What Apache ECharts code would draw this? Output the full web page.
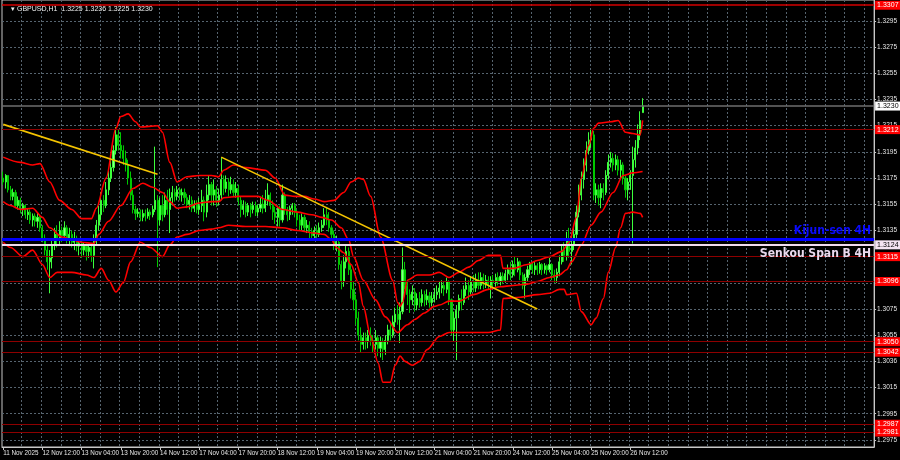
<!DOCTYPE html>
<html><head><meta charset="utf-8">
<script src="https://cdn.jsdelivr.net/npm/echarts@6/dist/echarts.min.js"></script>
<style>html,body{margin:0;padding:0;background:#000;}#c{width:900px;height:460px;}</style>
</head><body><div id="c"></div>
<script>
const symbolName = 'GBPUSD,H1';
const lastBarOHLC = ['1.3225', '1.3236', '1.3225', '1.3230'];
const xTickLabels = ['11 Nov 2025','12 Nov 12:00','13 Nov 04:00','13 Nov 20:00','14 Nov 12:00','17 Nov 04:00','17 Nov 20:00','18 Nov 12:00','19 Nov 04:00','19 Nov 20:00','20 Nov 12:00','21 Nov 04:00','21 Nov 20:00','24 Nov 12:00','25 Nov 04:00','25 Nov 20:00','26 Nov 12:00'];
const yTickValues = [1.2975,1.2995,1.3015,1.3035,1.3055,1.3075,1.3095,1.3115,1.3135,1.3155,1.3175,1.3195,1.3215,1.3235,1.3255,1.3275,1.3295];
const yTickLabels = ['1.2975','1.2995','1.3015','1.3036','1.3055','1.3075','1.3096','1.3115','1.3135','1.3155','1.3175','1.3195','1.3215','1.3235','1.3255','1.3275','1.3295'];
const barSlots = 356;
const yMin = 1.29696, yMax = 1.33110;

// [open, close, low, high]
const candles = [
[1.3175,1.3172,1.3170,1.3180],[1.3172,1.3177,1.3167,1.3178],[1.3177,1.3166,1.3164,1.3177],[1.3166,1.3161,1.3158,1.3169],[1.3161,1.3164,1.3158,1.3167],
[1.3164,1.3154,1.3152,1.3166],[1.3154,1.3158,1.3151,1.3161],[1.3158,1.3151,1.3148,1.3160],[1.3151,1.3154,1.3146,1.3156],[1.3154,1.3147,1.3144,1.3155],
[1.3147,1.3149,1.3143,1.3152],[1.3149,1.3143,1.3140,1.3151],[1.3143,1.3146,1.3138,1.3148],[1.3146,1.3142,1.3138,1.3148],[1.3142,1.3145,1.3137,1.3149],
[1.3145,1.3137,1.3134,1.3146],[1.3137,1.3129,1.3126,1.3139],[1.3129,1.3120,1.3116,1.3132],[1.3120,1.3111,1.3105,1.3124],[1.3111,1.3114,1.3087,1.3120],
[1.3114,1.3124,1.3106,1.3128],[1.3124,1.3132,1.3120,1.3137],[1.3132,1.3128,1.3122,1.3139],[1.3128,1.3135,1.3124,1.3142],[1.3135,1.3131,1.3126,1.3138],
[1.3131,1.3137,1.3128,1.3142],[1.3137,1.3129,1.3125,1.3139],[1.3129,1.3132,1.3123,1.3137],[1.3132,1.3126,1.3122,1.3135],[1.3126,1.3129,1.3120,1.3134],
[1.3129,1.3123,1.3119,1.3131],[1.3123,1.3125,1.3116,1.3129],[1.3125,1.3120,1.3114,1.3128],[1.3120,1.3123,1.3116,1.3126],[1.3123,1.3119,1.3112,1.3125],
[1.3119,1.3122,1.3114,1.3125],[1.3122,1.3116,1.3111,1.3124],[1.3116,1.3128,1.3106,1.3132],[1.3128,1.3139,1.3124,1.3143],[1.3139,1.3147,1.3135,1.3154],
[1.3147,1.3158,1.3143,1.3164],[1.3158,1.3154,1.3149,1.3162],[1.3154,1.3166,1.3152,1.3172],[1.3166,1.3175,1.3162,1.3181],[1.3175,1.3183,1.3172,1.3189],
[1.3183,1.3196,1.3180,1.3200],[1.3196,1.3208,1.3193,1.3214],[1.3208,1.3200,1.3196,1.3212],[1.3200,1.3196,1.3190,1.3210],[1.3196,1.3190,1.3185,1.3200],
[1.3190,1.3185,1.3180,1.3196],[1.3185,1.3175,1.3170,1.3189],[1.3175,1.3162,1.3158,1.3180],[1.3162,1.3151,1.3148,1.3166],[1.3151,1.3148,1.3143,1.3154],
[1.3148,1.3149,1.3145,1.3152],[1.3149,1.3145,1.3142,1.3151],[1.3145,1.3148,1.3142,1.3151],[1.3148,1.3146,1.3142,1.3151],[1.3146,1.3149,1.3144,1.3152],
[1.3149,1.3147,1.3143,1.3151],[1.3147,1.3151,1.3145,1.3154],[1.3151,1.3158,1.3149,1.3199],[1.3158,1.3143,1.3107,1.3162],[1.3143,1.3154,1.3139,1.3160],
[1.3154,1.3147,1.3142,1.3162],[1.3147,1.3158,1.3145,1.3164],[1.3158,1.3151,1.3147,1.3166],[1.3151,1.3160,1.3133,1.3167],[1.3160,1.3164,1.3154,1.3169],
[1.3164,1.3161,1.3157,1.3167],[1.3161,1.3166,1.3158,1.3169],[1.3166,1.3162,1.3158,1.3168],[1.3162,1.3164,1.3157,1.3167],[1.3164,1.3160,1.3155,1.3167],
[1.3160,1.3155,1.3152,1.3163],[1.3155,1.3158,1.3151,1.3162],[1.3158,1.3152,1.3149,1.3161],[1.3152,1.3155,1.3149,1.3158],[1.3155,1.3151,1.3148,1.3158],
[1.3151,1.3154,1.3147,1.3160],[1.3154,1.3158,1.3149,1.3166],[1.3158,1.3149,1.3142,1.3161],[1.3149,1.3162,1.3145,1.3170],[1.3162,1.3170,1.3158,1.3177],
[1.3170,1.3162,1.3154,1.3172],[1.3162,1.3166,1.3154,1.3174],[1.3166,1.3158,1.3153,1.3169],[1.3158,1.3162,1.3154,1.3167],[1.3162,1.3174,1.3158,1.3191],
[1.3174,1.3167,1.3162,1.3177],[1.3167,1.3172,1.3164,1.3177],[1.3172,1.3166,1.3161,1.3175],[1.3166,1.3170,1.3163,1.3176],[1.3170,1.3164,1.3161,1.3174],
[1.3164,1.3167,1.3160,1.3172],[1.3167,1.3158,1.3154,1.3170],[1.3158,1.3151,1.3145,1.3161],[1.3151,1.3154,1.3147,1.3158],[1.3154,1.3149,1.3145,1.3157],
[1.3149,1.3154,1.3146,1.3156],[1.3154,1.3151,1.3145,1.3156],[1.3151,1.3154,1.3148,1.3157],[1.3154,1.3149,1.3146,1.3157],[1.3149,1.3152,1.3146,1.3155],
[1.3152,1.3155,1.3149,1.3160],[1.3155,1.3152,1.3148,1.3162],[1.3152,1.3158,1.3149,1.3166],[1.3158,1.3162,1.3154,1.3171],[1.3162,1.3154,1.3151,1.3164],
[1.3154,1.3149,1.3143,1.3158],[1.3149,1.3145,1.3140,1.3153],[1.3145,1.3152,1.3138,1.3154],[1.3152,1.3143,1.3138,1.3154],[1.3143,1.3162,1.3141,1.3170],
[1.3162,1.3151,1.3147,1.3164],[1.3151,1.3147,1.3142,1.3153],[1.3147,1.3152,1.3143,1.3154],[1.3152,1.3154,1.3147,1.3156],[1.3154,1.3149,1.3145,1.3156],
[1.3149,1.3143,1.3138,1.3151],[1.3143,1.3139,1.3135,1.3147],[1.3139,1.3145,1.3135,1.3148],[1.3145,1.3137,1.3134,1.3147],[1.3137,1.3139,1.3133,1.3143],
[1.3139,1.3134,1.3129,1.3142],[1.3134,1.3131,1.3128,1.3137],[1.3131,1.3135,1.3129,1.3138],[1.3135,1.3132,1.3129,1.3139],[1.3132,1.3137,1.3130,1.3141],
[1.3137,1.3139,1.3134,1.3143],[1.3139,1.3147,1.3137,1.3152],[1.3147,1.3143,1.3139,1.3153],[1.3143,1.3137,1.3134,1.3149],[1.3137,1.3132,1.3128,1.3139],
[1.3132,1.3124,1.3120,1.3135],[1.3124,1.3126,1.3119,1.3131],[1.3126,1.3109,1.3105,1.3128],[1.3109,1.3096,1.3090,1.3112],[1.3096,1.3111,1.3092,1.3116],
[1.3111,1.3119,1.3106,1.3124],[1.3119,1.3105,1.3101,1.3122],[1.3105,1.3090,1.3083,1.3109],[1.3090,1.3082,1.3074,1.3096],[1.3082,1.3068,1.3063,1.3086],
[1.3068,1.3055,1.3051,1.3073],[1.3055,1.3048,1.3042,1.3061],[1.3048,1.3053,1.3044,1.3057],[1.3053,1.3050,1.3044,1.3057],[1.3050,1.3055,1.3045,1.3059],
[1.3055,1.3051,1.3047,1.3061],[1.3051,1.3048,1.3042,1.3055],[1.3048,1.3053,1.3044,1.3059],[1.3053,1.3045,1.3039,1.3055],[1.3045,1.3050,1.3038,1.3054],
[1.3050,1.3044,1.3036,1.3053],[1.3044,1.3051,1.3040,1.3055],[1.3051,1.3059,1.3048,1.3063],[1.3059,1.3055,1.3051,1.3065],[1.3055,1.3065,1.3053,1.3070],
[1.3065,1.3071,1.3061,1.3076],[1.3071,1.3067,1.3063,1.3078],[1.3067,1.3073,1.3049,1.3080],[1.3073,1.3105,1.3071,1.3122],[1.3105,1.3093,1.3090,1.3111],
[1.3093,1.3086,1.3078,1.3097],[1.3086,1.3082,1.3072,1.3090],[1.3082,1.3088,1.3078,1.3093],[1.3088,1.3078,1.3073,1.3091],[1.3078,1.3083,1.3074,1.3087],
[1.3083,1.3080,1.3076,1.3088],[1.3080,1.3086,1.3077,1.3090],[1.3086,1.3082,1.3077,1.3089],[1.3082,1.3085,1.3078,1.3090],[1.3085,1.3080,1.3076,1.3088],
[1.3080,1.3083,1.3077,1.3088],[1.3083,1.3086,1.3080,1.3091],[1.3086,1.3088,1.3082,1.3093],[1.3088,1.3091,1.3083,1.3096],[1.3091,1.3093,1.3087,1.3097],
[1.3093,1.3090,1.3085,1.3096],[1.3090,1.3096,1.3087,1.3099],[1.3096,1.3082,1.3078,1.3097],[1.3082,1.3059,1.3055,1.3083],[1.3059,1.3068,1.3050,1.3073],
[1.3068,1.3074,1.3036,1.3078],[1.3074,1.3083,1.3068,1.3086],[1.3083,1.3080,1.3074,1.3090],[1.3080,1.3090,1.3078,1.3093],[1.3090,1.3093,1.3085,1.3099],
[1.3093,1.3088,1.3082,1.3097],[1.3088,1.3096,1.3086,1.3100],[1.3096,1.3091,1.3088,1.3101],[1.3091,1.3097,1.3088,1.3102],[1.3097,1.3093,1.3090,1.3103],
[1.3093,1.3099,1.3090,1.3103],[1.3099,1.3094,1.3090,1.3102],[1.3094,1.3097,1.3091,1.3101],[1.3097,1.3093,1.3090,1.3100],[1.3093,1.3097,1.3083,1.3100],
[1.3097,1.3095,1.3091,1.3101],[1.3095,1.3099,1.3092,1.3102],[1.3099,1.3096,1.3093,1.3103],[1.3096,1.3100,1.3093,1.3103],[1.3100,1.3097,1.3094,1.3103],
[1.3097,1.3102,1.3095,1.3105],[1.3102,1.3105,1.3097,1.3109],[1.3105,1.3101,1.3097,1.3111],[1.3101,1.3109,1.3099,1.3112],[1.3109,1.3105,1.3100,1.3115],
[1.3105,1.3111,1.3103,1.3114],[1.3111,1.3101,1.3097,1.3112],[1.3101,1.3093,1.3090,1.3103],[1.3093,1.3099,1.3083,1.3102],[1.3099,1.3105,1.3096,1.3108],
[1.3105,1.3109,1.3101,1.3111],[1.3109,1.3105,1.3102,1.3111],[1.3105,1.3108,1.3101,1.3111],[1.3108,1.3105,1.3101,1.3110],[1.3105,1.3109,1.3102,1.3111],
[1.3109,1.3105,1.3101,1.3110],[1.3105,1.3108,1.3102,1.3110],[1.3108,1.3105,1.3101,1.3109],[1.3105,1.3109,1.3103,1.3114],[1.3109,1.3101,1.3097,1.3110],
[1.3101,1.3099,1.3095,1.3105],[1.3099,1.3103,1.3095,1.3106],[1.3103,1.3111,1.3100,1.3116],[1.3111,1.3120,1.3109,1.3124],[1.3120,1.3116,1.3111,1.3126],
[1.3116,1.3128,1.3112,1.3134],[1.3128,1.3119,1.3114,1.3137],[1.3119,1.3124,1.3109,1.3131],[1.3124,1.3132,1.3120,1.3139],[1.3132,1.3149,1.3128,1.3154],
[1.3149,1.3162,1.3145,1.3170],[1.3162,1.3174,1.3158,1.3180],[1.3174,1.3185,1.3167,1.3190],[1.3185,1.3196,1.3180,1.3203],[1.3196,1.3204,1.3193,1.3210],
[1.3204,1.3208,1.3198,1.3213],[1.3208,1.3162,1.3158,1.3211],[1.3162,1.3166,1.3156,1.3171],[1.3166,1.3160,1.3154,1.3170],[1.3160,1.3167,1.3152,1.3171],
[1.3167,1.3164,1.3158,1.3171],[1.3164,1.3177,1.3162,1.3181],[1.3177,1.3187,1.3174,1.3193],[1.3187,1.3190,1.3183,1.3195],[1.3190,1.3185,1.3180,1.3194],
[1.3185,1.3189,1.3181,1.3193],[1.3189,1.3181,1.3177,1.3192],[1.3181,1.3185,1.3175,1.3189],[1.3185,1.3175,1.3170,1.3187],[1.3175,1.3166,1.3160,1.3177],
[1.3166,1.3172,1.3158,1.3175],[1.3172,1.3177,1.3166,1.3181],[1.3177,1.3189,1.3125,1.3199],[1.3189,1.3198,1.3183,1.3204],[1.3198,1.3208,1.3193,1.3216],
[1.3208,1.3219,1.3204,1.3226],[1.3225,1.3230,1.3225,1.3236]
];

// Bollinger bands, [bar index, price]
const bbUpper = [[0,1.3191],[7,1.3187],[12,1.3185],[15,1.3186],[19,1.3172],[23,1.3158],[28,1.3151],[32,1.3144],[36,1.3144],[38,1.3152],[42,1.3175],[46,1.3213],[48,1.3222],[51,1.3224],[54,1.3218],[56,1.3214],[63,1.3215],[65,1.3210],[68,1.3187],[71,1.3172],[75,1.3176],[80,1.3177],[85,1.3177],[88,1.3176],[90,1.3181],[94,1.3185],[99,1.3183],[107,1.3181],[111,1.3175],[115,1.3162],[119,1.3161],[123,1.3161],[127,1.3159],[131,1.3157],[135,1.3158],[139,1.3164],[142,1.3172],[145,1.3175],[147,1.3174],[150,1.3161],[154,1.3130],[159,1.3097],[161,1.3080],[162,1.3077],[163,1.3080],[165,1.3097],[169,1.3101],[174,1.3101],[178,1.3103],[182,1.3099],[186,1.3103],[190,1.3107],[194,1.3112],[198,1.3116],[203,1.3116],[204,1.3106],[208,1.3106],[214,1.3109],[218,1.3112],[223,1.3115],[228,1.3119],[231,1.3126],[234,1.3145],[236,1.3175],[239,1.3200],[241,1.3213],[243,1.3217],[248,1.3218],[251,1.3219],[254,1.3210],[257,1.3209],[260,1.3208],[261,1.3219]];
const bbMiddle = [[0,1.3157],[3,1.3154],[7,1.3151],[12,1.3152],[16,1.3145],[19,1.3137],[24,1.3130],[28,1.3128],[32,1.3126],[37,1.3125],[39,1.3132],[43,1.3142],[48,1.3154],[53,1.3167],[57,1.3171],[61,1.3168],[65,1.3164],[68,1.3157],[71,1.3152],[75,1.3153],[80,1.3156],[85,1.3157],[88,1.3157],[90,1.3160],[96,1.3161],[104,1.3161],[108,1.3158],[114,1.3151],[120,1.3149],[126,1.3147],[130,1.3145],[134,1.3143],[138,1.3137],[141,1.3128],[143,1.3115],[147,1.3097],[152,1.3082],[156,1.3069],[161,1.3057],[165,1.3063],[168,1.3067],[172,1.3072],[176,1.3077],[178,1.3078],[182,1.3081],[186,1.3081],[192,1.3086],[198,1.3090],[203,1.3092],[208,1.3093],[214,1.3094],[218,1.3096],[223,1.3099],[227,1.3101],[230,1.3105],[232,1.3111],[236,1.3124],[240,1.3139],[244,1.3149],[249,1.3164],[253,1.3177],[257,1.3179],[261,1.3180]];
const bbLower = [[0,1.3126],[3,1.3122],[8,1.3115],[12,1.3120],[16,1.3109],[19,1.3099],[22,1.3103],[28,1.3103],[34,1.3101],[37,1.3099],[40,1.3106],[43,1.3097],[46,1.3088],[49,1.3095],[52,1.3111],[56,1.3126],[60,1.3122],[65,1.3115],[68,1.3124],[71,1.3130],[75,1.3132],[80,1.3135],[85,1.3136],[88,1.3137],[92,1.3139],[99,1.3138],[107,1.3138],[114,1.3137],[120,1.3135],[127,1.3133],[131,1.3132],[134,1.3128],[136,1.3122],[139,1.3118],[142,1.3109],[145,1.3095],[147,1.3077],[150,1.3054],[153,1.3034],[155,1.3019],[158,1.3019],[160,1.3032],[162,1.3039],[164,1.3035],[167,1.3032],[170,1.3035],[173,1.3044],[178,1.3054],[182,1.3057],[186,1.3057],[192,1.3057],[198,1.3057],[203,1.3059],[204,1.3083],[211,1.3084],[218,1.3086],[223,1.3087],[227,1.3090],[229,1.3090],[230,1.3086],[234,1.3087],[236,1.3073],[240,1.3063],[242,1.3068],[245,1.3083],[247,1.3103],[250,1.3122],[252,1.3137],[254,1.3148],[257,1.3149],[260,1.3148],[261,1.3145]];

const trendLine1 = [[0,1.3216],[63,1.3178]];
const trendLine2 = [[89,1.3191],[218,1.3075]];

const redLevels = [1.3307,1.3212,1.3115,1.3096,1.3050,1.3042,1.2987,1.2981];
const kijunSen4H = 1.3128;
const senkouSpanB4H = 1.3124;
const currentPrice = 1.3230;

const categories = [];
for (let i = 0; i < barSlots; i++) categories.push(String(i));

const boxLabel = (text, bg, fg) => ({
  show: true, position: 'end', distance: 1, formatter: text,
  backgroundColor: bg, color: fg, fontSize: 7, fontFamily: 'Liberation Sans',
  padding: [1, 2, 0, 2], lineHeight: 8
});
const condensed = '"Liberation Sans Narrow", "DejaVu Sans Condensed", "Liberation Sans", sans-serif';

const levelLines = redLevels.map(v => ({
  yAxis: v,
  lineStyle: { color: v === 1.3307 ? '#d40000' : '#8e0000', width: v === 1.3307 ? 1.5 : 1, type: 'solid' },
  label: boxLabel(v.toFixed(4), '#ff0000', '#ffffff')
}));
levelLines.push({ yAxis: currentPrice, lineStyle: { color: '#6e6e6e', width: 1.5, type: 'solid' }, label: boxLabel(currentPrice.toFixed(4), '#ffffff', '#000000') });
levelLines.push({ yAxis: kijunSen4H, lineStyle: { color: '#0000ff', width: 3, type: 'solid' },
  label: { show: true, position: 'insideEndTop', distance: 3, formatter: 'Kijun-sen 4H', color: '#0a0aff', fontSize: 12, fontWeight: 'bold', fontFamily: condensed } });
levelLines.push({ yAxis: senkouSpanB4H, lineStyle: { color: '#f2dcef', width: 2, type: 'solid' },
  label: { show: true, position: 'insideEndBottom', distance: 3, formatter: 'Senkou Span B 4H', color: '#eadaee', fontSize: 12, fontWeight: 'bold', fontFamily: condensed } });
levelLines.push({ yAxis: senkouSpanB4H, lineStyle: { color: '#f2dcef', width: 0 }, label: boxLabel(senkouSpanB4H.toFixed(4), '#f4e4f2', '#000000') });

const gridLine = { show: true, lineStyle: { color: '#56646f', width: 1, type: [2, 2] } };

const bandSeries = (data) => ({
  type: 'line', data, showSymbol: false, smooth: 0.3, smoothMonotone: 'x',
  lineStyle: { color: '#ff0000', width: 1.6 }, z: 3, silent: true
});

const chart = echarts.init(document.getElementById('c'), null, { renderer: 'canvas' });
chart.setOption({
  backgroundColor: '#000000',
  animation: false,
  title: {
    text: '\u25BE ' + symbolName + '  ' + lastBarOHLC.join(' '),
    left: 6, top: 1,
    textStyle: { color: '#f0f0f0', fontSize: 7, fontWeight: 'normal', fontFamily: 'Liberation Sans' }
  },
  grid: { left: 2, right: 25, top: 0, bottom: 13, show: true, borderColor: '#c8c8c8', borderWidth: 1 },
  xAxis: {
    type: 'category', data: categories, boundaryGap: true,
    axisLine: { show: true, lineStyle: { color: '#c8c8c8' } },
    axisTick: { show: true, alignWithLabel: true, length: 3, interval: (i) => i % 16 === 0 && i / 16 < xTickLabels.length, lineStyle: { color: '#c8c8c8' } },
    axisLabel: {
      show: true, interval: (i) => i % 16 === 0 && i / 16 < xTickLabels.length,
      formatter: (v, i) => xTickLabels[i / 16] || '',
      align: 'left', margin: 3, color: '#e6e6e6', fontSize: 6.3, fontFamily: 'Liberation Sans'
    },
    splitLine: Object.assign({}, gridLine, { interval: (i) => i % 8 === 0 && i > 0 })
  },
  yAxis: {
    type: 'value', position: 'right', min: yMin, max: yMax, scale: true,
    axisLine: { show: true, lineStyle: { color: '#c8c8c8' } },
    axisTick: { show: true, length: 2, customValues: yTickValues, lineStyle: { color: '#c8c8c8' } },
    axisLabel: {
      show: true, customValues: yTickValues, margin: 3, color: '#e6e6e6', fontSize: 6.5, fontFamily: 'Liberation Sans',
      formatter: (v) => { const k = yTickValues.findIndex(t => Math.abs(t - v) < 1e-7); return k >= 0 ? yTickLabels[k] : ''; }
    },
    splitLine: gridLine
  },
  series: [
    {
      type: 'candlestick', data: candles, barWidth: 1.6, z: 2,
      itemStyle: { color: '#8cff8c', color0: '#1fbf1f', borderColor: '#3cff3c', borderColor0: '#00c800', borderWidth: 1 }
    },
    bandSeries(bbUpper),
    bandSeries(bbMiddle),
    bandSeries(bbLower),
    { type: 'line', data: trendLine1, showSymbol: false, lineStyle: { color: '#f5c400', width: 1.6 }, z: 4, silent: true,
      markLine: { silent: true, symbol: 'none', animation: false, precision: 4, data: levelLines } },
    { type: 'line', data: trendLine2, showSymbol: false, lineStyle: { color: '#f5c400', width: 1.6 }, z: 4, silent: true }
  ]
});
</script>
</body></html>
